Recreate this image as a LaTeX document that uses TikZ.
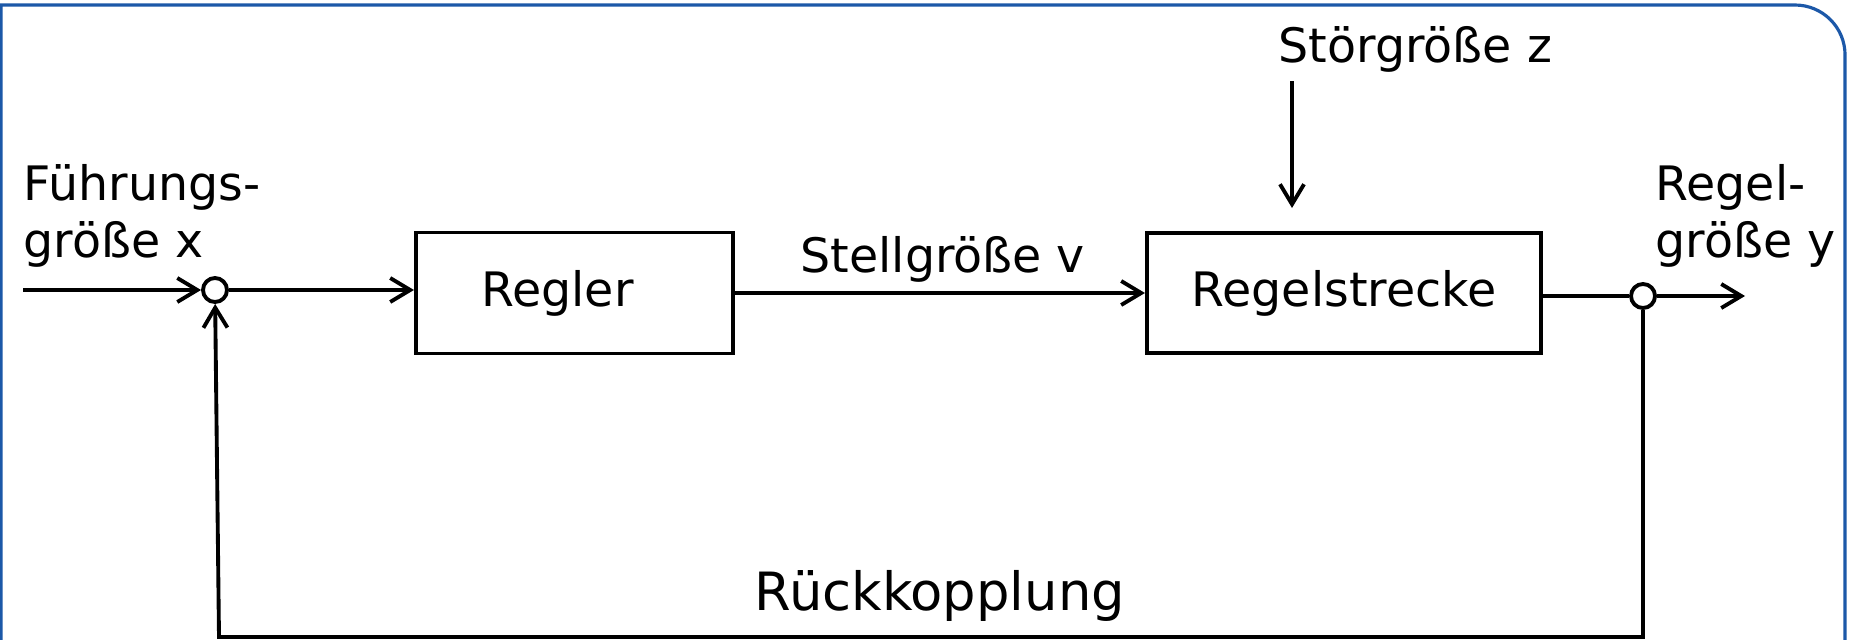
\documentclass[tikz,border=0pt]{standalone}
\usepackage{fontspec}
\setmainfont{DejaVu Sans}
\usepackage{tikz}
\usetikzlibrary{arrows.meta}
\usetikzlibrary{calc}
\definecolor{frameblue}{RGB}{28,88,168}
\newcommand{\lblfont}{\fontsize{13.5}{16.2}\selectfont}
\newcommand{\bigfont}{\fontsize{15}{18}\selectfont}
\tikzstyle{blk}=[shape=rectangle,draw,line width=1.1pt,inner sep=0pt,font=\lblfont]
\tikzstyle{sum}=[shape=circle,draw,line width=1.1pt,inner sep=0pt,minimum size=2.4mm,fill=white]
\tikzstyle{sig}=[draw,line width=1.1pt,-{Straight Barb[length=2mm,width=2.4mm]}]
\tikzstyle{wire}=[draw,line width=1.1pt]
\tikzstyle{lbl}=[inner sep=0pt,anchor=base west,font=\lblfont]
\tikzstyle{frame}=[draw=frameblue,line width=0.9pt]

\begin{document}
\begin{tikzpicture}[x=0.01cm,y=-0.01cm]
		\useasboundingbox (0,0) rectangle (1855,639);
		\clip (0,0) rectangle (1855,639);
		\draw[frame] (1,660) -- (1,5) -- (1795,5)
		arc[start angle=90,end angle=0,radius=0.5cm] -- (1845,660);
%
		\node[blk,minimum width=3.17cm,minimum height=1.21cm] (regler) at (574.5,293) {Regler\hspace*{0.34cm}};
		\node[blk,minimum width=3.94cm,minimum height=1.2cm] (strecke) at (1344,293) {Regelstrecke};
		\node[sum] (sum1) at (215,290) {};
		\node[sum] (sum2) at (1643,296) {};
		\coordinate (in) at (23,290);
		\coordinate (out) at (1745,296);
		\coordinate (ztop) at (1292,81);
		\coordinate (zbot) at (1292,208);
		\coordinate (fb) at (219,637);
%
		\node[lbl,align=left] (fuehr) at (23,257) {Führungs-\\größe x};
		\node[lbl,align=left] (regelgr) at (1655,257) {Regel-\\größe y};
		\node[lbl] (stoer) at (1278,62) {Störgröße z};
		\node[lbl] (stell) at (800,272) {Stellgröße v};
		\node[lbl,font=\bigfont] (rueck) at (754,610) {Rückkopplung};
%
		\draw[sig] (in) -- (sum1);
		\draw[sig] (sum1) -- (sum1 -| regler.west);
		\draw[sig] (regler) -- (strecke);
		\draw[wire] (strecke.east |- sum2) -- (sum2);
		\draw[sig] (sum2) -- (out);
		\draw[sig] (ztop) -- (zbot);
		\draw[sig] (sum2) -- (sum2 |- fb) -- (fb) -- (sum1);
\end{tikzpicture}
\end{document}
